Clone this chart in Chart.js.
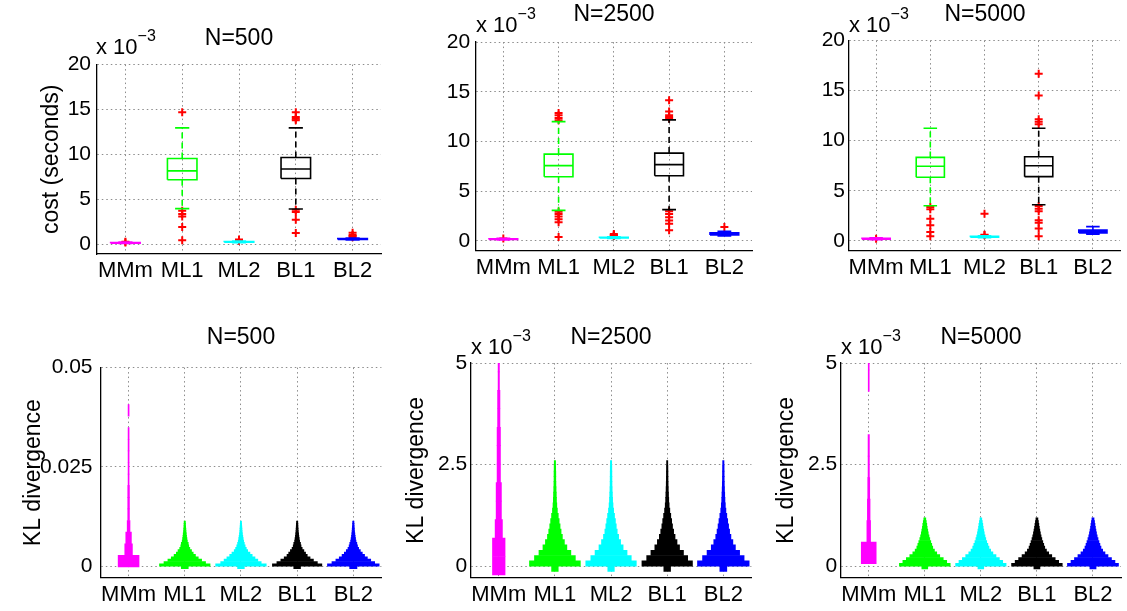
<!DOCTYPE html>
<html><head><meta charset="utf-8">
<script src="https://cdn.jsdelivr.net/npm/chart.js@4.4.1/dist/chart.umd.min.js"></script>
<style>
html,body{margin:0;padding:0;background:#fff;}
body{width:1127px;height:611px;position:relative;overflow:hidden;font-family:"Liberation Sans",Arial,sans-serif;color:#000;}
canvas{position:absolute;}
.ttl{position:absolute;font-size:23px;line-height:23px;white-space:nowrap;transform:translateX(-50%);z-index:5;}
.exp{position:absolute;font-size:22px;line-height:22px;white-space:nowrap;z-index:5;}
.exp span{font-size:16px;position:relative;top:-13px;}
</style></head><body>
<div class="ttl" style="left:239px;top:26px">N=500</div>
<div class="ttl" style="left:614px;top:2px">N=2500</div>
<div class="ttl" style="left:985px;top:2px">N=5000</div>
<div class="ttl" style="left:241px;top:325px">N=500</div>
<div class="ttl" style="left:611px;top:325px">N=2500</div>
<div class="ttl" style="left:981px;top:325px">N=5000</div>
<div class="exp" style="left:96px;top:36px">x 10<span>−3</span></div>
<div class="exp" style="left:476px;top:14px">x 10<span>−3</span></div>
<div class="exp" style="left:849px;top:14px">x 10<span>−3</span></div>
<div class="exp" style="left:471px;top:336px">x 10<span>−3</span></div>
<div class="exp" style="left:841px;top:336px">x 10<span>−3</span></div>
<canvas id="c1"></canvas><canvas id="c2"></canvas><canvas id="c3"></canvas>
<canvas id="c4"></canvas><canvas id="c5"></canvas><canvas id="c6"></canvas>
<script>
// ---------------- data ----------------
const categories = ['MMm', 'ML1', 'ML2', 'BL1', 'BL2'];
const costTicks = [0, 5, 10, 15, 20];
const costTickLabels = ['0', '5', '10', '15', '20'];
const klTicks500 = [0, 0.025, 0.05];
const klTickLabels500 = ['0', '0.025', '0.05'];
const klTicksE3 = [0, 2.5, 5];
const klTickLabelsE3 = ['0', '2.5', '5'];

// cost (x 10^-3 s), N=500
const wlo500 = [0.10, 3.98, 0.20, 3.95, 0.50];
const q1_500 = [0.13, 7.19, 0.25, 7.34, 0.55];
const med500 = [0.16, 8.18, 0.28, 8.39, 0.60];
const q3_500 = [0.20, 9.56, 0.32, 9.67, 0.65];
const whi500 = [0.26, 12.96, 0.38, 12.96, 0.72];
const out500 = [[0.30, 0.22], [14.7, 3.76, 3.4, 3.1, 1.93, 0.47], [0.42, 0.48, 0.55],
  [14.7, 14.16, 13.98, 13.8, 3.87, 3.6, 2.74, 1.28], [0.8, 0.95, 1.05, 1.3]];
// N=2500
const wlo2500 = [0.10, 3.07, 0.25, 3.14, 0.50];
const q1_2500 = [0.14, 6.45, 0.30, 6.55, 0.60];
const med2500 = [0.17, 7.57, 0.33, 7.67, 0.70];
const q3_2500 = [0.21, 8.73, 0.37, 8.83, 0.82];
const whi2500 = [0.27, 12.0, 0.42, 12.17, 0.95];
const out2500 = [[0.25], [12.86, 12.63, 12.36, 12.13, 2.94, 2.71, 2.45, 2.18, 1.88, 0.4], [0.48, 0.55, 0.62, 0.7],
  [14.15, 13.02, 12.63, 12.46, 12.3, 2.98, 2.71, 2.38, 2.05, 1.72, 1.06], [1.39]];
// N=5000
const wlo5000 = [0.12, 3.5, 0.30, 3.6, 0.65];
const q1_5000 = [0.16, 6.35, 0.36, 6.41, 0.78];
const med5000 = [0.20, 7.44, 0.40, 7.5, 0.92];
const q3_5000 = [0.24, 8.33, 0.45, 8.4, 1.08];
const whi5000 = [0.30, 11.24, 0.50, 11.24, 1.42];
const out5000 = [[0.2], [3.37, 3.14, 2.21, 1.55, 0.89, 0.46], [2.71, 0.6, 0.55],
  [16.69, 14.51, 12.13, 11.9, 11.64, 3.47, 3.21, 2.94, 2.05, 1.79, 1.22, 0.46], []];

// KL divergence distributions (bin centres, half-widths in category units)
const klBinsMMm500 = [0.0013, 0.00422, 0.00714, 0.01006, 0.01298, 0.0159, 0.01882, 0.02174, 0.02466, 0.02758, 0.0305, 0.03342, 0.03634, 0.03926];
const klWidthMMm500 = [0.186, 0.068, 0.05, 0.025, 0.015, 0.015, 0.015, 0.009, 0.009, 0.009, 0.009, 0.009, 0, 0.009];
const klBins500 = [-0.0003, 0.0003, 0.0009, 0.0015, 0.0021, 0.0027, 0.0033, 0.0039, 0.0045, 0.0051, 0.0057, 0.0063, 0.0069, 0.0075, 0.0081, 0.0087, 0.0093, 0.0099, 0.0105, 0.0111];
const klWidthML1_500 = [0.062, 0.45, 0.37, 0.30, 0.24, 0.19, 0.15, 0.12, 0.09, 0.071, 0.062, 0.046, 0.039, 0.032, 0.028, 0.023, 0.02, 0.016, 0.014, 0.012];
const klWidthML2_500 = [0.06, 0.45, 0.36, 0.30, 0.25, 0.20, 0.16, 0.12, 0.095, 0.075, 0.06, 0.048, 0.04, 0.033, 0.027, 0.022, 0.019, 0.016, 0.013, 0.011];
const klWidthBL1_500 = [0.06, 0.44, 0.36, 0.29, 0.23, 0.18, 0.15, 0.12, 0.09, 0.07, 0.06, 0.045, 0.038, 0.031, 0.027, 0.022, 0.019, 0.016, 0.014, 0.012];
const klWidthBL2_500 = [0.065, 0.46, 0.38, 0.31, 0.25, 0.20, 0.16, 0.125, 0.095, 0.075, 0.063, 0.048, 0.04, 0.033, 0.028, 0.023, 0.02, 0.017, 0.014, 0.012];

const klBinsMMm2500 = [0.0075, 0.4625, 0.9175, 1.3725, 1.8275, 2.2825, 2.7375, 3.1925, 3.6475, 4.1025, 4.5575, 5.0125];
const klWidthMMm2500 = [0.112, 0.112, 0.065, 0.047, 0.047, 0.03, 0.03, 0.03, 0.021, 0.021, 0.012, 0.012];
const klBins2500 = [-0.065, 0.065, 0.195, 0.325, 0.455, 0.585, 0.715, 0.845, 0.975, 1.105, 1.235, 1.365, 1.495, 1.625, 1.755, 1.885, 2.015, 2.145, 2.275, 2.405, 2.535];
const klWidthML1_2500 = [0.059, 0.453, 0.364, 0.284, 0.213, 0.169, 0.133, 0.110, 0.092, 0.076, 0.060, 0.044, 0.034, 0.028, 0.025, 0.021, 0.018, 0.016, 0.016, 0.014, 0.012];
const klWidthML2_2500 = [0.058, 0.45, 0.36, 0.285, 0.215, 0.17, 0.135, 0.11, 0.093, 0.078, 0.062, 0.046, 0.035, 0.028, 0.024, 0.02, 0.017, 0.016, 0.015, 0.014, 0.012];
const klWidthBL1_2500 = [0.06, 0.45, 0.365, 0.29, 0.22, 0.175, 0.14, 0.115, 0.095, 0.08, 0.064, 0.047, 0.035, 0.028, 0.024, 0.02, 0.017, 0.015, 0.014, 0.013, 0.011];
const klWidthBL2_2500 = [0.062, 0.46, 0.37, 0.29, 0.215, 0.17, 0.135, 0.112, 0.094, 0.078, 0.062, 0.046, 0.036, 0.029, 0.025, 0.021, 0.018, 0.016, 0.015, 0.014, 0.012];

const klBinsMMm5000 = [0.325, 0.855, 1.385, 1.915, 2.445, 2.975, 3.505, 4.035, 4.565, 5.095];
const klWidthMMm5000 = [0.133, 0.033, 0.024, 0.018, 0.012, 0.012, 0, 0, 0.009, 0.009];
const klBins5000 = [-0.035, 0.035, 0.105, 0.175, 0.245, 0.315, 0.385, 0.455, 0.525, 0.595, 0.665, 0.735, 0.805, 0.875, 0.945, 1.015, 1.085, 1.155];
const klWidthML1_5000 = [0.053, 0.453, 0.391, 0.329, 0.267, 0.213, 0.172, 0.142, 0.124, 0.107, 0.089, 0.075, 0.062, 0.053, 0.043, 0.036, 0.027, 0.018];
const klWidthML2_5000 = [0.052, 0.45, 0.39, 0.33, 0.27, 0.215, 0.175, 0.145, 0.125, 0.105, 0.088, 0.074, 0.061, 0.052, 0.042, 0.035, 0.026, 0.017];
const klWidthBL1_5000 = [0.054, 0.452, 0.388, 0.326, 0.265, 0.21, 0.17, 0.14, 0.122, 0.105, 0.088, 0.074, 0.062, 0.052, 0.043, 0.035, 0.027, 0.018];
const klWidthBL2_5000 = [0.055, 0.455, 0.392, 0.33, 0.268, 0.214, 0.173, 0.143, 0.124, 0.107, 0.09, 0.075, 0.063, 0.053, 0.044, 0.036, 0.028, 0.019];

// ---------------- styles ----------------
const seriesColors = ['#ff00ff', '#00ff00', '#00ffff', '#000000', '#0000ff'];
const OUTLIER = '#ff0000';
const GRID = '#8c8c8c';
const BOX_HW = 0.26, CAP_HW = 0.125;
const XTICK_SIZE = 22, YTICK_SIZE = 21, LABEL_SIZE = 23;
Chart.defaults.font.family = '"Liberation Sans", Arial, sans-serif';
Chart.defaults.color = '#000';

function placeCanvas(p) {
  const c = document.getElementById(p.id);
  c.width = p.w; c.height = p.h;
  c.style.left = p.left + 'px'; c.style.top = p.top + 'px';
  c.style.width = p.w + 'px'; c.style.height = p.h + 'px';
  return c;
}
function gridOpts() { return {color: GRID, lineWidth: 1, drawTicks: false, offset: false}; }
function borderOpts() { return {display: true, color: '#000', width: 1.3, dash: [1.5, 3]}; }
function axisX(p, extra) {
  return Object.assign({
    type: 'linear', min: 0.5, max: 5.5, offset: false,
    afterBuildTicks: s => { s.ticks = categories.map((c, i) => ({value: i + 1})); },
    afterFit: s => { s.height = p.xH; },
    ticks: {autoSkip: false, maxRotation: 0, minRotation: 0, padding: 4, font: {size: XTICK_SIZE},
      callback: v => categories[Math.round(v) - 1]},
    grid: gridOpts(), border: borderOpts()
  }, extra || {});
}
function axisY(p, vals, labels, extra) {
  return Object.assign({
    type: 'linear', min: p.min, max: p.max, offset: false,
    afterBuildTicks: s => { s.ticks = vals.map(v => ({value: v})); },
    afterFit: s => { s.width = p.yW; },
    ticks: {padding: p.tickPad, font: {size: YTICK_SIZE}, callback: v => labels[vals.indexOf(v)]},
    grid: gridOpts(), border: borderOpts(),
    title: p.yTitle ? {display: true, text: p.yTitle, font: {size: LABEL_SIZE}, padding: {top: p.titlePad, bottom: 0}} : {display: false}
  }, extra || {});
}
const baseOpts = p => ({
  responsive: false, animation: false, devicePixelRatio: 1,
  layout: {padding: {top: p.padT, right: p.padR, left: 0, bottom: 0}},
  plugins: {legend: {display: false}, tooltip: {enabled: false}, title: {display: false}}
});

// ---------------- cost box plots ----------------
const costPanels = [
  {id: 'c1', left: 0, top: 46, w: 387, h: 248, yW: 97, xH: 40, padT: 15, padR: 5.5, min: -1.06, max: 20, tickPad: 6,
   yTitle: 'cost (seconds)', titlePad: 38.2, wlo: wlo500, q1: q1_500, med: med500, q3: q3_500, whi: whi500, out: out500},
  {id: 'c2', left: 406, top: 24, w: 352, h: 267, yW: 69.7, xH: 40.3, padT: 15, padR: 5, min: -0.99, max: 20, tickPad: 5.5,
   yTitle: null, wlo: wlo2500, q1: q1_2500, med: med2500, q3: q3_2500, whi: whi2500, out: out2500},
  {id: 'c3', left: 779, top: 24, w: 347, h: 267, yW: 70, xH: 40.3, padT: 15, padR: 5.4, min: -0.99, max: 20, tickPad: 4,
   yTitle: null, wlo: wlo5000, q1: q1_5000, med: med5000, q3: q3_5000, whi: whi5000, out: out5000}
];
costPanels.forEach(p => {
  const datasets = [];
  categories.forEach((cat, i) => {
    const x = i + 1, col = seriesColors[i];
    const solid = [
      {x: x - BOX_HW, y: p.q1[i]}, {x: x + BOX_HW, y: p.q1[i]}, {x: x + BOX_HW, y: p.q3[i]},
      {x: x - BOX_HW, y: p.q3[i]}, {x: x - BOX_HW, y: p.q1[i]}, {x: x, y: null},
      {x: x - BOX_HW, y: p.med[i]}, {x: x + BOX_HW, y: p.med[i]}, {x: x, y: null},
      {x: x - CAP_HW, y: p.whi[i]}, {x: x + CAP_HW, y: p.whi[i]}, {x: x, y: null},
      {x: x - CAP_HW, y: p.wlo[i]}, {x: x + CAP_HW, y: p.wlo[i]}
    ];
    const whisk = [{x: x, y: p.q3[i]}, {x: x, y: p.whi[i]}, {x: x, y: null}, {x: x, y: p.q1[i]}, {x: x, y: p.wlo[i]}];
    datasets.push({type: 'line', data: whisk, borderColor: col, borderWidth: 1.6, borderDash: [6, 4],
      pointRadius: 0, pointHoverRadius: 0, fill: false, tension: 0, spanGaps: false});
    datasets.push({type: 'line', data: solid, borderColor: col, borderWidth: 1.6,
      pointRadius: 0, pointHoverRadius: 0, fill: false, tension: 0, spanGaps: false});
    datasets.push({type: 'line', data: p.out[i].map(v => ({x: x, y: v})), showLine: false,
      pointStyle: 'cross', pointRadius: 4, pointHoverRadius: 4, pointBorderWidth: 2,
      borderColor: OUTLIER, pointBorderColor: OUTLIER, backgroundColor: OUTLIER});
  });
  const opts = baseOpts(p);
  opts.scales = {x: axisX(p), y: axisY(p, costTicks, costTickLabels)};
  new Chart(placeCanvas(p), {type: 'line', data: {datasets}, options: opts});
});

// ---------------- KL distribution plots ----------------
const klPanels = [
  {id: 'c4', left: 0, top: 347, w: 387, h: 264, yW: 100.5, xH: 33.3, padT: 15.3, padR: 5.6, min: -0.00287, max: 0.05, tickPad: 8,
   yTitle: 'KL divergence', titlePad: 19.5, ticks: klTicks500, labels: klTickLabels500,
   bins: [klBinsMMm500, klBins500, klBins500, klBins500, klBins500],
   widths: [klWidthMMm500, klWidthML1_500, klWidthML2_500, klWidthBL1_500, klWidthBL2_500]},
  {id: 'c5', left: 400, top: 347, w: 356, h: 264, yW: 70.7, xH: 33.3, padT: 15.3, padR: 4.6, min: -0.287, max: 5, tickPad: 3.5,
   yTitle: 'KL divergence', titlePad: 2.7, ticks: klTicksE3, labels: klTickLabelsE3,
   bins: [klBinsMMm2500, klBins2500, klBins2500, klBins2500, klBins2500],
   widths: [klWidthMMm2500, klWidthML1_2500, klWidthML2_2500, klWidthBL1_2500, klWidthBL2_2500]},
  {id: 'c6', left: 770, top: 347, w: 356, h: 264, yW: 70.7, xH: 33.3, padT: 15.3, padR: 5, min: -0.287, max: 5, tickPad: 3.5,
   yTitle: 'KL divergence', titlePad: 3.2, ticks: klTicksE3, labels: klTickLabelsE3,
   bins: [klBinsMMm5000, klBins5000, klBins5000, klBins5000, klBins5000],
   widths: [klWidthMMm5000, klWidthML1_5000, klWidthML2_5000, klWidthBL1_5000, klWidthBL2_5000]}
];
klPanels.forEach(p => {
  const datasets = categories.map((cat, i) => {
    const x = i + 1;
    return {
      type: 'bar', stack: 'kl', label: cat,
      data: p.bins[i].map((b, j) => ({y: b, x: p.widths[i][j] > 0 ? [x - p.widths[i][j], x + p.widths[i][j]] : null})),
      backgroundColor: seriesColors[i], borderWidth: 0,
      barThickness: 'flex', barPercentage: 1, categoryPercentage: 1
    };
  });
  const opts = baseOpts(p);
  opts.indexAxis = 'y';
  opts.scales = {
    x: axisX(p, {stacked: false}),
    y: axisY(p, p.ticks, p.labels)
  };
  new Chart(placeCanvas(p), {type: 'bar', data: {datasets}, options: opts});
});
</script>
</body></html>
